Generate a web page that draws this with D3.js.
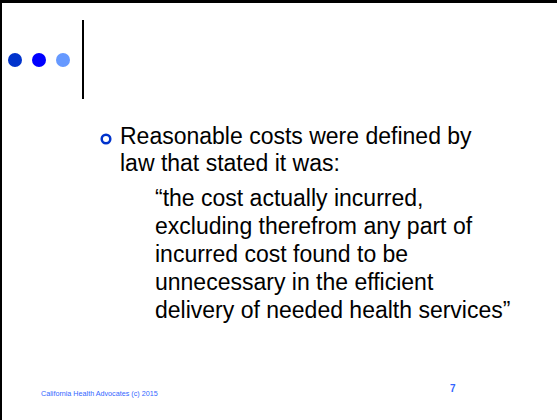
<!DOCTYPE html>
<html>
<head>
<meta charset="utf-8">
<script src="https://cdn.jsdelivr.net/npm/d3@7"></script>
<style>
  body { margin: 0; background: #fff; }
  text { font-family: "Liberation Sans", Arial, sans-serif; }
</style>
</head>
<body>
<div class="slide"></div>
<script>
const dotColors = ["#0033cc", "#0000ff", "#6699ff"];
const bulletLines = ["Reasonable costs were defined by", "law that stated it was:"];
const quoteLines = [
  "\u201cthe cost actually incurred,",
  "excluding therefrom any part of",
  "incurred cost found to be",
  "unnecessary in the efficient",
  "delivery of needed health services\u201d"
];
const footerText = "California Health Advocates (c) 2015";
const pageNumber = "7";

const width = 557, height = 420;

const svg = d3.select(".slide")
  .append("svg")
  .attr("width", width)
  .attr("height", height);

// frame: top and left rules
svg.append("rect").attr("x", 0).attr("y", 0).attr("width", width).attr("height", 3).attr("fill", "#000");
svg.append("rect").attr("x", 0).attr("y", 0).attr("width", 2).attr("height", height).attr("fill", "#000");

// three dots
const xDot = d3.scalePoint().domain(d3.range(dotColors.length)).range([15, 63]);
svg.selectAll(".dot")
  .data(dotColors)
  .enter()
  .append("circle")
  .attr("class", "dot")
  .attr("cx", (d, i) => xDot(i))
  .attr("cy", 60)
  .attr("r", 7)
  .attr("fill", (d) => d);

svg.append("line")
  .attr("x1", 83).attr("x2", 83)
  .attr("y1", 20).attr("y2", 99)
  .attr("stroke", "#000")
  .attr("stroke-width", 2);

// bullet text
const yBullet = d3.scaleLinear().domain([0, 1]).range([144, 171]);
svg.append("circle")
  .attr("cx", 106).attr("cy", 139)
  .attr("r", 4.3)
  .attr("fill", "none")
  .attr("stroke", "#0033cc")
  .attr("stroke-width", 2.5);

svg.selectAll(".bl")
  .data(bulletLines)
  .enter()
  .append("text")
  .attr("class", "bl")
  .attr("x", 120)
  .attr("y", (d, i) => yBullet(i))
  .attr("font-size", 23)
  .attr("fill", "#000")
  .text((d) => d);

const yQuote = d3.scaleLinear().domain([0, quoteLines.length - 1]).range([206, 318]);
svg.selectAll(".ql")
  .data(quoteLines)
  .enter()
  .append("text")
  .attr("class", "ql")
  .attr("x", 155)
  .attr("y", (d, i) => yQuote(i))
  .attr("font-size", 23)
  .attr("fill", "#000")
  .text((d) => d);

// footer
svg.append("text")
  .attr("x", 41).attr("y", 396)
  .attr("font-size", 7.2)
  .attr("fill", "#3366ff")
  .text(footerText);

svg.append("text")
  .attr("x", 450).attr("y", 392)
  .attr("font-size", 10)
  .attr("font-weight", "bold")
  .attr("fill", "#3366ff")
  .text(pageNumber);
</script>
</body>
</html>
